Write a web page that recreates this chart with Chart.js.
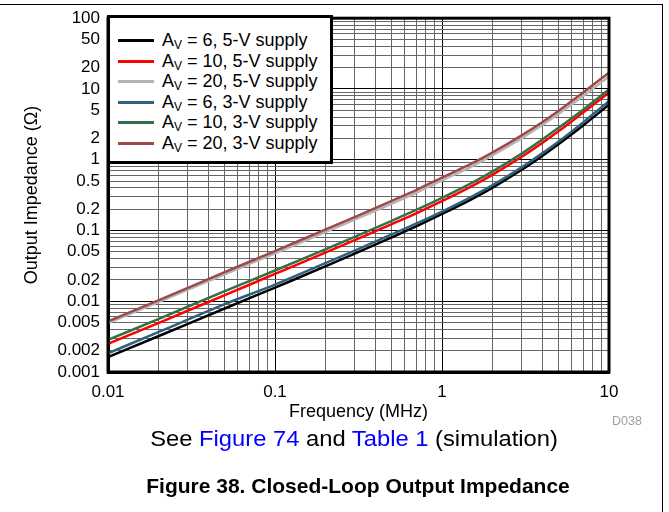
<!DOCTYPE html>
<html>
<head>
<meta charset="utf-8">
<script src="https://cdn.jsdelivr.net/npm/chart.js@4.4.1/dist/chart.umd.min.js"></script>
<style>
  body { margin: 0; background: #fff; font-family: "Liberation Sans", Arial, sans-serif; }
  #page { position: relative; width: 669px; height: 512px; overflow: hidden; }
  #frame { position: absolute; left: -4px; top: 4px; width: 666px; height: 520px;
           border-top: 1.5px solid #000; border-right: 1.5px solid #000; }
  #chartBox { position: absolute; left: 0; top: 0; width: 669px; height: 512px; }
  #legend { position: absolute; left: 107px; top: 15px; width: 226px; height: 149px;
            background: #fff; border: 3px solid #000; box-sizing: border-box; padding-top: 12px; }
  .row { height: 20.6px; line-height: 20.6px; font-size: 18px; white-space: nowrap; position: relative; }
  .swatch { position: absolute; left: 8px; top: 9px; width: 36px; height: 3px; }
  .txt { position: absolute; left: 52px; top: 0; color: #000; }
  .txt sub { font-size: 12px; vertical-align: -3px; line-height: 0; }
  #dcode { position: absolute; left: 612px; top: 414px; font-size: 12.5px; color: #a0a0a0; }
  #note { position: absolute; left: 0; width: 708px; top: 426px; text-align: center; font-size: 22px; color: #000;
          transform: scaleX(1.08); transform-origin: 354px 0; }
  #note span { color: #0000ff; }
  #title { position: absolute; left: 0; width: 716px; top: 474px; text-align: center; font-size: 21px; font-weight: bold; color: #000; }
</style>
</head>
<body>
<div id="page">
  <div id="frame"></div>
  <div id="chartBox"><canvas id="impedanceChart" width="669" height="512"></canvas></div>
  <div id="legend"></div>
  <div id="dcode">D038</div>
  <div id="note">See <span>Figure 74</span> and <span>Table 1</span> (simulation)</div>
  <div id="title">Figure 38. Closed-Loop Output Impedance</div>
</div>
<script>
// frequency points (MHz)
var freqMHz = [0.01, 0.02, 0.05, 0.1, 0.2, 0.3, 0.5, 0.7, 1, 1.5, 2, 3, 4, 5, 7, 10];

// output impedance (ohm) for each curve
var zA6_5V  = [0.00162, 0.0032, 0.0079, 0.0156, 0.031, 0.047, 0.080, 0.114, 0.171, 0.276, 0.40, 0.72, 1.14, 1.67, 3.05, 6.0];
var zA10_5V = [0.0025, 0.0049, 0.0122, 0.0243, 0.0485, 0.073, 0.123, 0.175, 0.26, 0.42, 0.61, 1.10, 1.74, 2.54, 4.65, 8.9];
var zA20_5V = [0.0049, 0.0097, 0.024, 0.0475, 0.095, 0.142, 0.24, 0.34, 0.51, 0.80, 1.15, 2.01, 3.12, 4.48, 7.98, 15];
var zA6_3V  = [0.00184, 0.00365, 0.0091, 0.0172, 0.0345, 0.052, 0.088, 0.125, 0.185, 0.299, 0.434, 0.78, 1.24, 1.81, 3.37, 6.7];
var zA10_3V = [0.00284, 0.0056, 0.0139, 0.0272, 0.054, 0.081, 0.137, 0.195, 0.29, 0.468, 0.68, 1.22, 1.94, 2.84, 5.1, 9.8];
var zA20_3V = [0.0052, 0.0103, 0.0258, 0.0512, 0.103, 0.154, 0.262, 0.372, 0.56, 0.88, 1.26, 2.21, 3.42, 4.91, 8.9, 17];

var gains = [6, 10, 20, 6, 10, 20];
var supplies = ['5-V', '5-V', '5-V', '3-V', '3-V', '3-V'];
var seriesColors = ['#000000', '#ff0000', '#b4b4b4', '#31607d', '#33704a', '#a04848'];
var seriesValues = [zA6_5V, zA10_5V, zA20_5V, zA6_3V, zA10_3V, zA20_3V];

var xTickLabels = ['0.01', '0.1', '1', '10'];
var yTickLabels = ['0.001', '0.002', '0.005', '0.01', '0.02', '0.05', '0.1', '0.2', '0.5', '1', '2', '5', '10', '20', '50', '100'];

function logGrid(lo, hi) {
    var out = [];
    for (var d = lo; d < hi * 1.001; d *= 10) {
        for (var k = 1; k <= 9; k++) {
            var v = parseFloat((k * d).toPrecision(3));
            if (v <= hi * 1.001) out.push(v);
        }
    }
    return out;
}
function findLabel(list, v) {
    for (var i = 0; i < list.length; i++) {
        if (Math.abs(parseFloat(list[i]) - v) < v * 1e-6) return list[i];
    }
    return '';
}
function isDecade(v) {
    var l = Math.log10(v);
    return Math.abs(l - Math.round(l)) < 1e-6;
}

var datasets = seriesValues.map(function (vals, i) {
    return {
        label: 'AV = ' + gains[i] + ', ' + supplies[i] + ' supply',
        data: freqMHz.map(function (f, j) { return { x: f, y: vals[j] }; }),
        borderColor: seriesColors[i],
        backgroundColor: seriesColors[i],
        borderWidth: 2.5,
        pointRadius: 0,
        cubicInterpolationMode: 'monotone',
        order: 6 - i
    };
});

var plotFrame = {
    id: 'plotFrame',
    afterDraw: function (chart) {
        var a = chart.chartArea, ctx = chart.ctx;
        ctx.save();
        ctx.strokeStyle = '#000';
        ctx.lineWidth = 3;
        ctx.strokeRect(a.left, a.top, a.right - a.left, a.bottom - a.top);
        ctx.restore();
    }
};

var fontFamily = '"Liberation Sans", Arial, sans-serif';

var ctx = document.getElementById('impedanceChart').getContext('2d');
var impedanceChart = new Chart(ctx, {
    type: 'line',
    data: { datasets: datasets },
    options: {
        responsive: false,
        animation: false,
        layout: { padding: { top: 16, right: 60, left: 0, bottom: 0 } },
        plugins: { legend: { display: false }, tooltip: { enabled: false } },
        scales: {
            x: {
                type: 'logarithmic',
                min: 0.01,
                max: 10,
                afterFit: function (scale) { scale.height = 140; },
                afterBuildTicks: function (scale) {
                    scale.ticks = logGrid(0.01, 10).map(function (v) { return { value: v }; });
                },
                ticks: {
                    autoSkip: false,
                    maxRotation: 0,
                    padding: 10,
                    color: '#000',
                    font: { family: fontFamily, size: 17 },
                    callback: function (v) { return findLabel(xTickLabels, v); }
                },
                grid: {
                    drawTicks: false,
                    lineWidth: 1,
                    color: function (c) { return c.tick && isDecade(c.tick.value) ? '#000' : '#666'; }
                },
                border: { display: true, color: '#000', width: 3 },
                title: {
                    display: true,
                    text: 'Frequency (MHz)',
                    color: '#000',
                    font: { family: fontFamily, size: 18 },
                    padding: { top: 0, bottom: 89 }
                }
            },
            y: {
                type: 'logarithmic',
                min: 0.001,
                max: 100,
                afterFit: function (scale) { scale.width = 108; },
                afterBuildTicks: function (scale) {
                    scale.ticks = logGrid(0.001, 100).map(function (v) { return { value: v }; });
                },
                ticks: {
                    autoSkip: false,
                    padding: 8,
                    color: '#000',
                    font: { family: fontFamily, size: 17 },
                    callback: function (v) { return findLabel(yTickLabels, v); }
                },
                grid: {
                    drawTicks: false,
                    lineWidth: 1,
                    color: function (c) { return c.tick && isDecade(c.tick.value) ? '#000' : '#666'; }
                },
                border: { display: true, color: '#000', width: 3 },
                title: {
                    display: true,
                    text: 'Output Impedance (\u03A9)',
                    color: '#000',
                    font: { family: fontFamily, size: 18 },
                    padding: { top: 21, bottom: 0 }
                }
            }
        }
    },
    plugins: [plotFrame]
});

// legend with subscript V, built from the chart datasets
var legendBox = document.getElementById('legend');
impedanceChart.data.datasets.forEach(function (ds, i) {
    var row = document.createElement('div');
    row.className = 'row';
    row.innerHTML = '<span class="swatch" style="background:' + ds.borderColor + '"></span>' +
        '<span class="txt">A<sub>V</sub> = ' + gains[i] + ', ' + supplies[i] + ' supply</span>';
    legendBox.appendChild(row);
});
</script>
</body>
</html>
